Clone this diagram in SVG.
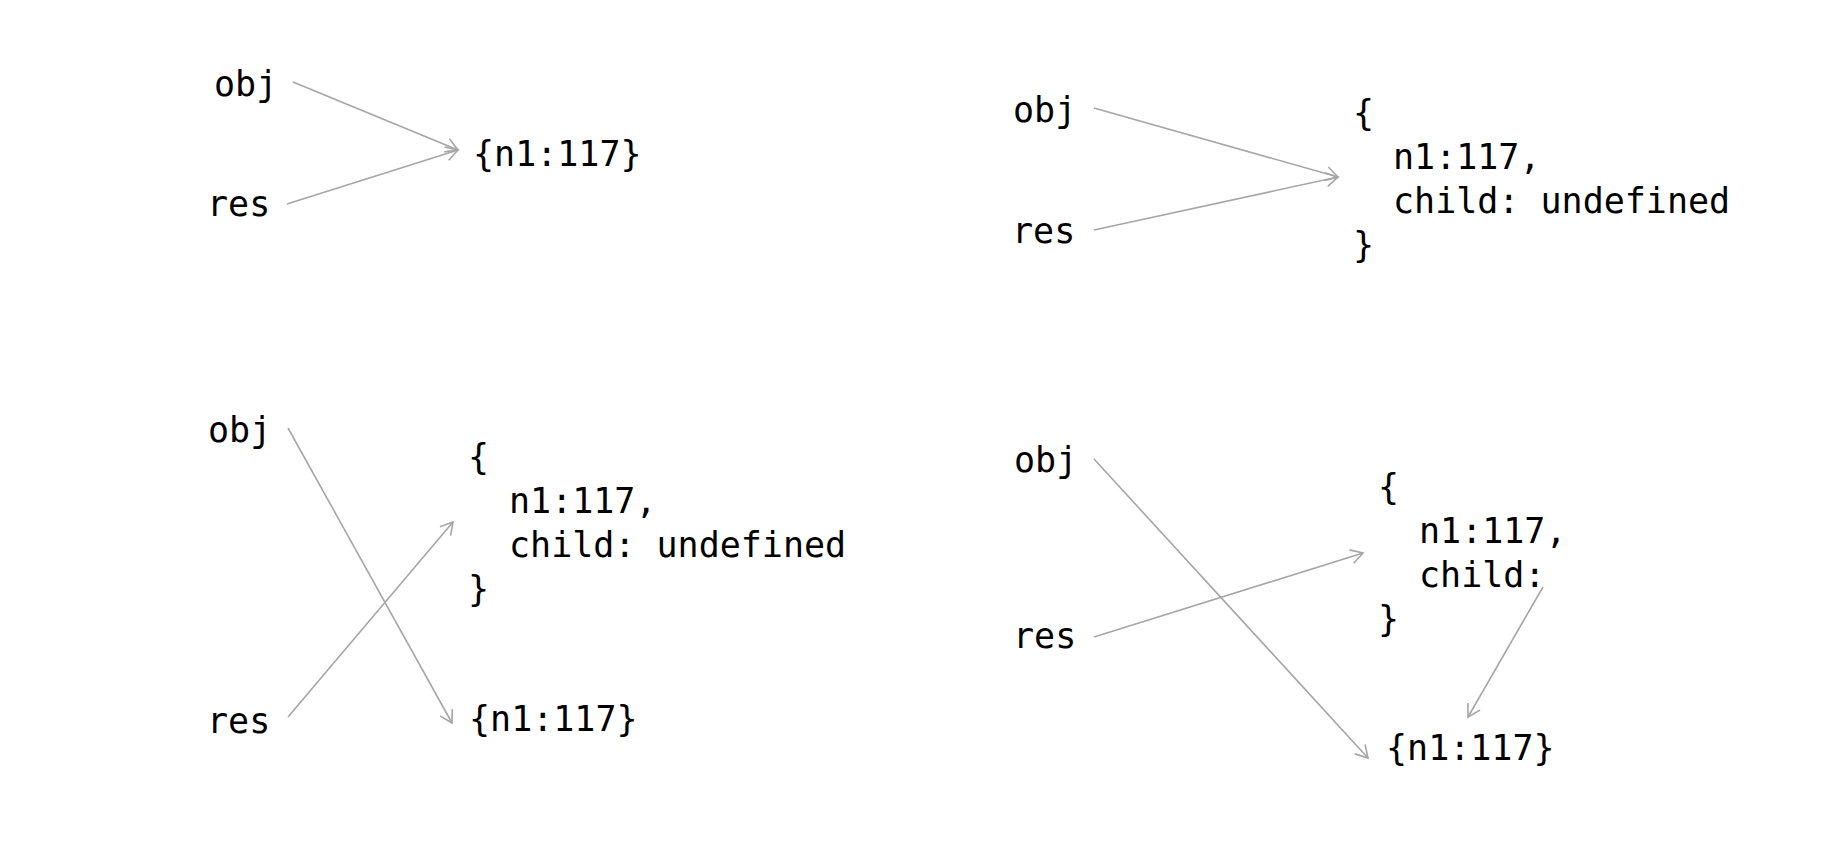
<svg xmlns="http://www.w3.org/2000/svg" width="1838" height="852" viewBox="0 0 1838 852">
<style>
text{font-family:"DejaVu Sans Mono","Liberation Mono",monospace;font-size:35px;fill:#000}
.c{fill:none;stroke:#a6a6a6;stroke-width:1.6}
</style>
<defs>
<marker id="ah" markerUnits="userSpaceOnUse" markerWidth="20" markerHeight="20" viewBox="0 0 20 20" refX="16" refY="10" orient="auto">
<path d="M4,3 L16,10 L4,17" fill="none" stroke="#a6a6a6" stroke-width="1.6"/>
</marker>
</defs>
<rect width="1838" height="852" fill="#fff"/>
<g id="connectors">
<line class="c" x1="293" y1="82" x2="458" y2="150" marker-end="url(#ah)"/>
<line class="c" x1="287" y1="204" x2="458" y2="150" marker-end="url(#ah)"/>
<line class="c" x1="1094" y1="108" x2="1338" y2="177" marker-end="url(#ah)"/>
<line class="c" x1="1094" y1="230" x2="1338" y2="177" marker-end="url(#ah)"/>
<line class="c" x1="288" y1="428" x2="452" y2="723" marker-end="url(#ah)"/>
<line class="c" x1="288" y1="717" x2="453" y2="522" marker-end="url(#ah)"/>
<line class="c" x1="1094" y1="459" x2="1368" y2="758" marker-end="url(#ah)"/>
<line class="c" x1="1094" y1="637" x2="1363" y2="553" marker-end="url(#ah)"/>
<line class="c" x1="1543" y1="587" x2="1468" y2="717" marker-end="url(#ah)"/>
</g>
<g id="q1-obj"><text x="214" y="96">obj</text></g>
<g id="q1-res"><text x="207" y="216">res</text></g>
<g id="q1-value"><text x="473" y="166">{n1:117}</text></g>
<g id="q2-obj"><text x="1013" y="122">obj</text></g>
<g id="q2-res"><text x="1012" y="243">res</text></g>
<g id="q2-value">
<text x="1353" y="125">{</text>
<text x="1393" y="169">n1:117,</text>
<text x="1393" y="213">child: undefined</text>
<text x="1353" y="257">}</text>
</g>
<g id="q3-obj"><text x="208" y="442">obj</text></g>
<g id="q3-res"><text x="207" y="733">res</text></g>
<g id="q3-value">
<text x="468" y="469">{</text>
<text x="509" y="513">n1:117,</text>
<text x="509" y="557">child: undefined</text>
<text x="468" y="601">}</text>
</g>
<g id="q3-new"><text x="469" y="731">{n1:117}</text></g>
<g id="q4-obj"><text x="1014" y="472">obj</text></g>
<g id="q4-res"><text x="1013" y="648">res</text></g>
<g id="q4-value">
<text x="1378" y="499">{</text>
<text x="1419" y="543">n1:117,</text>
<text x="1419" y="587">child:</text>
<text x="1378" y="631">}</text>
</g>
<g id="q4-new"><text x="1386" y="760">{n1:117}</text></g>
</svg>
